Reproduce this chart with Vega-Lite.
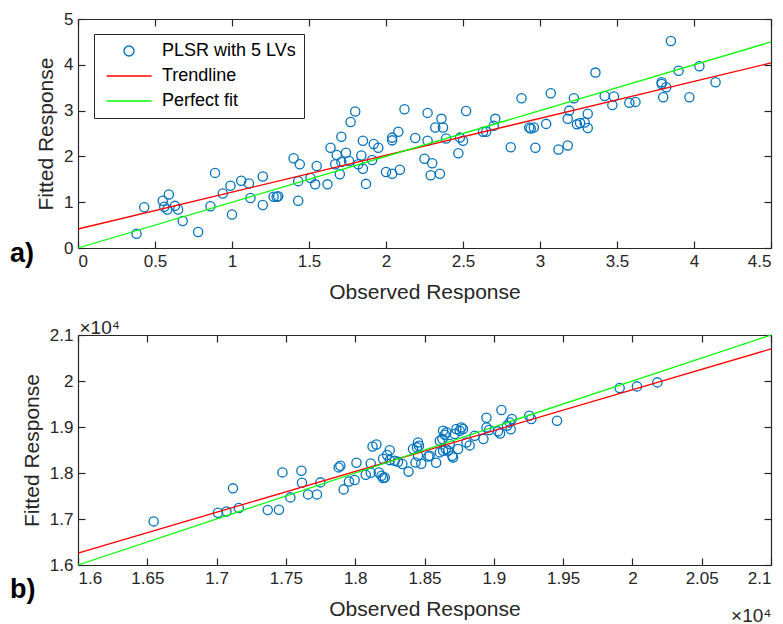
{
  "$schema": "https://vega.github.io/schema/vega-lite/v6.json",
  "padding": {"left": 10, "top": 10, "right": 10, "bottom": 4},
  "background": "white",
  "spacing": 87,
  "bounds": "flush",
  "datasets": {
    "aPoints": [
      {"observed":0.38,"fitted":0.31},{"observed":0.43,"fitted":0.89},{"observed":0.55,"fitted":1.03},{"observed":0.56,"fitted":0.90},
      {"observed":0.59,"fitted":1.17},{"observed":0.58,"fitted":0.84},{"observed":0.63,"fitted":0.92},{"observed":0.65,"fitted":0.84},
      {"observed":0.68,"fitted":0.59},{"observed":0.78,"fitted":0.35},{"observed":0.86,"fitted":0.91},{"observed":0.89,"fitted":1.64},
      {"observed":0.94,"fitted":1.19},{"observed":0.99,"fitted":1.36},{"observed":1.00,"fitted":0.73},{"observed":1.06,"fitted":1.47},
      {"observed":1.11,"fitted":1.41},{"observed":1.12,"fitted":1.09},{"observed":1.20,"fitted":1.56},{"observed":1.20,"fitted":0.94},
      {"observed":1.27,"fitted":1.12},{"observed":1.29,"fitted":1.12},{"observed":1.30,"fitted":1.13},{"observed":1.40,"fitted":1.96},
      {"observed":1.44,"fitted":1.83},{"observed":1.43,"fitted":1.46},{"observed":1.43,"fitted":1.03},{"observed":1.51,"fitted":1.53},
      {"observed":1.55,"fitted":1.79},{"observed":1.54,"fitted":1.39},{"observed":1.62,"fitted":1.39},{"observed":1.64,"fitted":2.19},
      {"observed":1.67,"fitted":1.83},{"observed":1.68,"fitted":2.03},{"observed":1.71,"fitted":2.43},{"observed":1.71,"fitted":1.88},
      {"observed":1.70,"fitted":1.61},{"observed":1.74,"fitted":2.08},{"observed":1.76,"fitted":1.90},{"observed":1.77,"fitted":2.75},
      {"observed":1.80,"fitted":2.98},{"observed":1.82,"fitted":1.83},{"observed":1.84,"fitted":2.02},{"observed":1.85,"fitted":2.34},
      {"observed":1.85,"fitted":1.73},{"observed":1.87,"fitted":1.40},{"observed":1.91,"fitted":1.92},{"observed":1.92,"fitted":2.27},
      {"observed":1.95,"fitted":2.19},{"observed":2.00,"fitted":1.66},{"observed":2.04,"fitted":1.62},{"observed":2.04,"fitted":2.41},
      {"observed":2.04,"fitted":2.35},{"observed":2.08,"fitted":2.54},{"observed":2.09,"fitted":1.71},{"observed":2.12,"fitted":3.03},
      {"observed":2.19,"fitted":2.40},{"observed":2.27,"fitted":2.95},{"observed":2.27,"fitted":2.34},{"observed":2.25,"fitted":1.95},
      {"observed":2.30,"fitted":1.85},{"observed":2.29,"fitted":1.59},{"observed":2.35,"fitted":1.62},{"observed":2.32,"fitted":2.63},
      {"observed":2.36,"fitted":2.82},{"observed":2.37,"fitted":2.63},{"observed":2.39,"fitted":2.39},{"observed":2.48,"fitted":2.41},
      {"observed":2.50,"fitted":2.34},{"observed":2.47,"fitted":2.07},{"observed":2.52,"fitted":2.99},{"observed":2.63,"fitted":2.54},
      {"observed":2.65,"fitted":2.54},{"observed":2.70,"fitted":2.67},{"observed":2.71,"fitted":2.82},{"observed":2.81,"fitted":2.20},
      {"observed":2.88,"fitted":3.27},{"observed":2.93,"fitted":2.63},{"observed":2.94,"fitted":2.61},{"observed":2.96,"fitted":2.63},
      {"observed":2.97,"fitted":2.19},{"observed":3.04,"fitted":2.71},{"observed":3.07,"fitted":3.38},{"observed":3.12,"fitted":2.15},
      {"observed":3.18,"fitted":2.24},{"observed":3.18,"fitted":2.82},{"observed":3.19,"fitted":3.00},{"observed":3.22,"fitted":3.27},
      {"observed":3.24,"fitted":2.70},{"observed":3.26,"fitted":2.73},{"observed":3.29,"fitted":2.74},{"observed":3.31,"fitted":2.93},
      {"observed":3.31,"fitted":2.62},{"observed":3.36,"fitted":3.83},{"observed":3.42,"fitted":3.32},{"observed":3.48,"fitted":3.31},
      {"observed":3.47,"fitted":3.12},{"observed":3.58,"fitted":3.17},{"observed":3.62,"fitted":3.19},{"observed":3.79,"fitted":3.62},
      {"observed":3.79,"fitted":3.58},{"observed":3.82,"fitted":3.51},{"observed":3.80,"fitted":3.29},{"observed":3.85,"fitted":4.52},
      {"observed":3.90,"fitted":3.87},{"observed":3.97,"fitted":3.29},{"observed":4.035,"fitted":3.97},{"observed":4.14,"fitted":3.62}
    ],
    "aLines": [
      {"series":"Trendline","observed":0,"fitted":0.415},{"series":"Trendline","observed":4.5,"fitted":4.04},
      {"series":"Perfect fit","observed":0,"fitted":0},{"series":"Perfect fit","observed":4.5,"fitted":4.5}
    ],
    "bPoints": [
      {"observed":16546,"fitted":16948},{"observed":17010,"fitted":17137},{"observed":17071,"fitted":17165},{"observed":17118,"fitted":17666},
      {"observed":17160,"fitted":17239},{"observed":17369,"fitted":17196},{"observed":17450,"fitted":17202},{"observed":17475,"fitted":18013},
      {"observed":17532,"fitted":17470},{"observed":17612,"fitted":18050},{"observed":17616,"fitted":17789},{"observed":17660,"fitted":17535},
      {"observed":17724,"fitted":17535},{"observed":17749,"fitted":17796},{"observed":17881,"fitted":18122},{"observed":17893,"fitted":18159},
      {"observed":17917,"fitted":17644},{"observed":17955,"fitted":17815},{"observed":17996,"fitted":17848},{"observed":18009,"fitted":18224},
      {"observed":18076,"fitted":17963},{"observed":18112,"fitted":18209},{"observed":18125,"fitted":18575},{"observed":18153,"fitted":18620},
      {"observed":18112,"fitted":18005},{"observed":18170,"fitted":18010},{"observed":18190,"fitted":17941},{"observed":18201,"fitted":17891},
      {"observed":18213,"fitted":17904},{"observed":18201,"fitted":18308},{"observed":18230,"fitted":18390},{"observed":18249,"fitted":18495},
      {"observed":18249,"fitted":18280},{"observed":18285,"fitted":18267},{"observed":18309,"fitted":18246},{"observed":18340,"fitted":18196},
      {"observed":18385,"fitted":18030},{"observed":18417,"fitted":18522},{"observed":18435,"fitted":18230},{"observed":18453,"fitted":18665},
      {"observed":18460,"fitted":18593},{"observed":18446,"fitted":18557},{"observed":18453,"fitted":18376},{"observed":18477,"fitted":18200},
      {"observed":18528,"fitted":18360},{"observed":18537,"fitted":18376},{"observed":18584,"fitted":18222},{"observed":18610,"fitted":18702},
      {"observed":18634,"fitted":18920},{"observed":18646,"fitted":18833},{"observed":18658,"fitted":18883},{"observed":18634,"fitted":18485},
      {"observed":18653,"fitted":18522},{"observed":18670,"fitted":18485},{"observed":18610,"fitted":18448},{"observed":18629,"fitted":18739},
      {"observed":18682,"fitted":18630},{"observed":18700,"fitted":18376},{"observed":18706,"fitted":18339},{"observed":18718,"fitted":18848},
      {"observed":18730,"fitted":18957},{"observed":18754,"fitted":18920},{"observed":18766,"fitted":18991},{"observed":18778,"fitted":18957},
      {"observed":18742,"fitted":18522},{"observed":18802,"fitted":18665},{"observed":18826,"fitted":18600},{"observed":18862,"fitted":18811},
      {"observed":18925,"fitted":18740},{"observed":18947,"fitted":19200},{"observed":18947,"fitted":18991},{"observed":18966,"fitted":18935},
      {"observed":19030,"fitted":18905},{"observed":19045,"fitted":18860},{"observed":19055,"fitted":19370},{"observed":19095,"fitted":19028},
      {"observed":19115,"fitted":19100},{"observed":19122,"fitted":18950},{"observed":19130,"fitted":19174},{"observed":19256,"fitted":19246},
      {"observed":19271,"fitted":19174},{"observed":19456,"fitted":19137},{"observed":19908,"fitted":19848},{"observed":20033,"fitted":19883},
      {"observed":20180,"fitted":19970}
    ],
    "bLines": [
      {"series":"Trendline","observed":16000,"fitted":16260},{"series":"Trendline","observed":21000,"fitted":20696},
      {"series":"Perfect fit","observed":16000,"fitted":16000},{"series":"Perfect fit","observed":21000,"fitted":21000}
    ]
  },
  "vconcat": [
    {
      "width": 693,
      "height": 229,
      "title": {"text": "a)", "orient": "bottom", "anchor": "start", "frame": "group", "fontSize": 27, "fontWeight": "bold", "font": "Liberation Sans", "color": "black", "dx": -68, "dy": -61, "offset": 0},
      "layer": [
        {
          "data": {"name": "aPoints"},
          "transform": [{"calculate": "'PLSR with 5 LVs'", "as": "series"}],
          "mark": {"type": "point", "filled": false, "size": 85, "strokeWidth": 1.3, "opacity": 1},
          "encoding": {
            "x": {"field": "observed", "type": "quantitative", "scale": {"domain": [0, 4.5], "nice": false, "zero": false},
                  "axis": {"orient": "bottom", "values": [0,0.5,1,1.5,2,2.5,3,3.5,4,4.5], "format": "~g", "title": "Observed Response", "titleFontWeight": "normal", "titlePadding": 12}},
            "y": {"field": "fitted", "type": "quantitative", "scale": {"domain": [0, 5], "nice": false, "zero": false},
                  "axis": {"orient": "left", "values": [0,1,2,3,4,5], "format": "~g", "title": "Fitted Response", "titleFontWeight": "normal", "titlePadding": 7}},
            "color": {"field": "series", "type": "nominal",
                      "scale": {"domain": ["PLSR with 5 LVs", "Trendline", "Perfect fit"], "range": ["#0072BD", "#FF0000", "#00FF00"]},
                      "legend": {"orient": "none", "legendX": 16, "legendY": 15}},
            "shape": {"field": "series", "type": "nominal",
                      "scale": {"domain": ["PLSR with 5 LVs", "Trendline", "Perfect fit"], "range": ["circle", "M-4.5,0H4.5", "M-4.5,0H4.5"]},
                      "legend": {"orient": "none", "legendX": 16, "legendY": 15}}
          }
        },
        {
          "data": {"name": "aLines"},
          "mark": {"type": "line", "strokeWidth": 1.3},
          "encoding": {
            "x": {"field": "observed", "type": "quantitative", "scale": {"domain": [0, 4.5], "nice": false, "zero": false},
                  "axis": {"orient": "top", "values": [0,0.5,1,1.5,2,2.5,3,3.5,4,4.5], "labels": false, "title": null}},
            "y": {"field": "fitted", "type": "quantitative", "scale": {"domain": [0, 5], "nice": false, "zero": false},
                  "axis": {"orient": "right", "values": [0,1,2,3,4,5], "labels": false, "title": null}},
            "color": {"field": "series", "type": "nominal",
                      "scale": {"domain": ["PLSR with 5 LVs", "Trendline", "Perfect fit"], "range": ["#0072BD", "#FF0000", "#00FF00"]},
                      "legend": {"orient": "none", "legendX": 16, "legendY": 15}},
            "order": {"field": "series", "sort": "descending"}
          }
        }
      ],
      "resolve": {"axis": {"x": "independent", "y": "independent"}}
    },
    {
      "width": 693,
      "height": 230,
      "title": {"text": "b)", "orient": "bottom", "anchor": "start", "frame": "group", "fontSize": 27, "fontWeight": "bold", "font": "Liberation Sans", "color": "black", "dx": -68, "dy": -48, "offset": 0},
      "layer": [
        {
          "data": {"name": "bPoints"},
          "transform": [{"calculate": "'PLSR with 5 LVs'", "as": "series"}],
          "mark": {"type": "point", "filled": false, "size": 85, "strokeWidth": 1.3, "opacity": 1},
          "encoding": {
            "x": {"field": "observed", "type": "quantitative", "scale": {"domain": [16000, 21000], "nice": false, "zero": false},
                  "axis": {"orient": "bottom", "values": [16000,16500,17000,17500,18000,18500,19000,19500,20000,20500,21000], "labelExpr": "format(datum.value/10000, '~g')", "title": "Observed Response", "titleFontWeight": "normal", "titlePadding": 12}},
            "y": {"field": "fitted", "type": "quantitative", "scale": {"domain": [16000, 21000], "nice": false, "zero": false},
                  "axis": {"orient": "left", "values": [16000,17000,18000,19000,20000,21000], "labelExpr": "format(datum.value/10000, '~g')", "title": "Fitted Response", "titleFontWeight": "normal", "titlePadding": 7}},
            "color": {"field": "series", "type": "nominal",
                      "scale": {"domain": ["PLSR with 5 LVs", "Trendline", "Perfect fit"], "range": ["#0072BD", "#FF0000", "#00FF00"]},
                      "legend": {"orient": "none", "legendX": 16, "legendY": 17}},
            "shape": {"field": "series", "type": "nominal",
                      "scale": {"domain": ["PLSR with 5 LVs", "Trendline", "Perfect fit"], "range": ["circle", "M-4.5,0H4.5", "M-4.5,0H4.5"]},
                      "legend": {"orient": "none", "legendX": 16, "legendY": 17}}
          }
        },
        {
          "data": {"name": "bLines"},
          "mark": {"type": "line", "strokeWidth": 1.3},
          "encoding": {
            "x": {"field": "observed", "type": "quantitative", "scale": {"domain": [16000, 21000], "nice": false, "zero": false},
                  "axis": {"orient": "top", "values": [16000,16500,17000,17500,18000,18500,19000,19500,20000,20500,21000], "labels": false,
                           "title": "×10⁴", "titleAnchor": "start", "titleAlign": "left", "titleAngle": 0, "titleX": 1, "titleY": -2, "titleBaseline": "alphabetic", "titleFontSize": 19, "titleFontWeight": "normal"}},
            "y": {"field": "fitted", "type": "quantitative", "scale": {"domain": [16000, 21000], "nice": false, "zero": false},
                  "axis": {"orient": "right", "values": [16000,17000,18000,19000,20000,21000], "labels": false,
                           "title": "×10⁴", "titleAngle": 0, "titleAlign": "right", "titleX": 0, "titleY": 286, "titleBaseline": "alphabetic", "titleFontSize": 19, "titleFontWeight": "normal"}},
            "color": {"field": "series", "type": "nominal",
                      "scale": {"domain": ["PLSR with 5 LVs", "Trendline", "Perfect fit"], "range": ["#0072BD", "#FF0000", "#00FF00"]},
                      "legend": {"orient": "none", "legendX": 16, "legendY": 17}},
            "order": {"field": "series", "sort": "descending"}
          }
        }
      ],
      "resolve": {"axis": {"x": "independent", "y": "independent"}}
    }
  ],
  "config": {
    "view": {"stroke": null},
    "font": "Liberation Sans",
    "axis": {
      "grid": false,
      "domainColor": "#262626",
      "domainWidth": 1.2,
      "tickColor": "#262626",
      "tickSize": -7,
      "tickWidth": 1.2,
      "labelColor": "#262626",
      "labelFont": "Liberation Sans",
      "labelFontSize": 17,
      "labelPadding": 12,
      "titleFont": "Liberation Sans",
      "titleFontSize": 21,
      "titleFontWeight": "normal",
      "titleColor": "#262626"
    },
    "legend": {
      "title": null,
      "strokeColor": "#262626",
      "fillColor": "white",
      "padding": 8,
      "labelFont": "Liberation Sans",
      "labelFontSize": 18,
      "labelColor": "#000000",
      "rowPadding": 7,
      "symbolSize": 100,
      "symbolOffset": 18,
      "labelOffset": 24,
      "symbolStrokeWidth": 1.4,
      "symbolFillColor": "transparent"
    }
  }
}
